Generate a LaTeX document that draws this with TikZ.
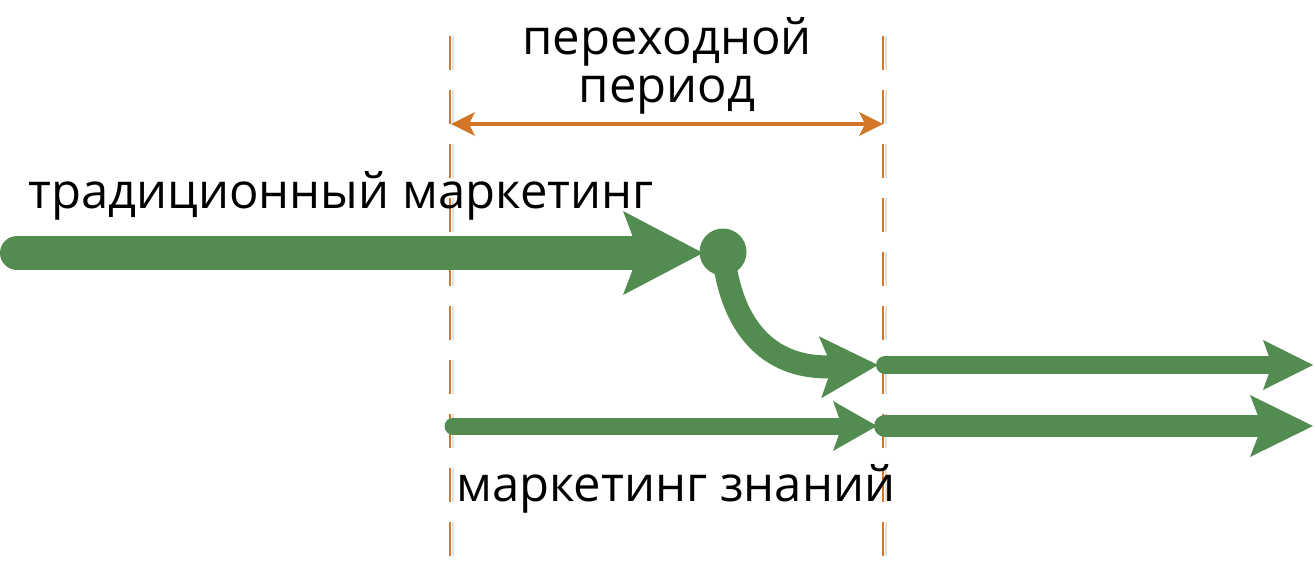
\documentclass[tikz,border=0pt]{standalone}
\usepackage{fontspec}
\setmainfont{Open Sans}
\usetikzlibrary{arrows.meta}
\definecolor{grn}{RGB}{83,140,80}
\definecolor{org}{RGB}{212,118,40}
\tikzset{
  lbl/.style={inner sep=0pt, font=\fontsize{49}{58}\selectfont, text=black},
  vdash/.style={draw=org, line width=2.6pt, dash pattern=on 34pt off 20pt},
  vshadow/.style={draw=black!12, line width=2.6pt, dash pattern=on 34pt off 20pt},
  flow/.style={draw=grn, line cap=round},
}
\begin{document}
\begin{tikzpicture}[x=1pt,y=-1pt]
\useasboundingbox (0,0) rectangle (1315,562);
% vertical dashed guides
\coordinate (ltop) at (450,36);
\coordinate (lbot) at (450,558);
\coordinate (rtop) at (883,36);
\coordinate (rbot) at (883,558);
\draw[vshadow] ([xshift=3pt]ltop) -- ([xshift=3pt]lbot);
\draw[vshadow] ([xshift=3pt]rtop) -- ([xshift=3pt]rbot);
\draw[vdash] (ltop) -- (lbot);
\draw[vdash] (rtop) -- (rbot);
% transition period
\coordinate (pl) at (451,124);
\coordinate (pr) at (883,124);
\draw[org, line width=4pt, {Stealth[length=24pt,width=24pt,inset=6pt,line width=0pt]}-{Stealth[length=24pt,width=24pt,inset=6pt,line width=0pt]}] (pl) -- (pr);
\node[lbl, anchor=base] (t1) at (667,54) {переходной};
\node[lbl, anchor=base] (t2) at (667,102) {период};
% traditional marketing
\node[lbl, anchor=base west] (trad) at (28,208) {традиционный маркетинг};
\coordinate (a0) at (17,253);
\coordinate (a1) at (703,253);
\draw[flow, line width=34pt, -{Stealth[length=80pt,width=84pt,inset=16pt,line width=0pt]}] (a0) -- (a1);
\node[circle, fill=grn, inner sep=0pt, minimum size=47pt] (dot) at (723,252) {};
% bend down
\coordinate (c1) at (878,365);
\draw[flow, line width=23pt, -{Stealth[length=58pt,width=62pt,inset=12pt,line width=0pt]}] (dot.center) .. controls (732,335) and (775,369) .. (c1);
% knowledge marketing
\coordinate (b0) at (453,426);
\coordinate (b1) at (877,426);
\draw[flow, line width=17pt, -{Stealth[length=44pt,width=50pt,inset=9pt,line width=0pt]}] (b0) -- (b1);
\node[lbl, anchor=base west] (know) at (456,501) {маркетинг знаний};
% continuing arrows
\coordinate (r0) at (885,365);
\coordinate (r1) at (1313,365);
\draw[flow, line width=18pt, -{Stealth[length=50pt,width=50pt,inset=9pt,line width=0pt]}] (r0) -- (r1);
\coordinate (s0) at (885,426);
\coordinate (s1) at (1313,426);
\draw[flow, line width=22pt, -{Stealth[length=63pt,width=62pt,inset=12pt,line width=0pt]}] (s0) -- (s1);
\end{tikzpicture}
\end{document}
